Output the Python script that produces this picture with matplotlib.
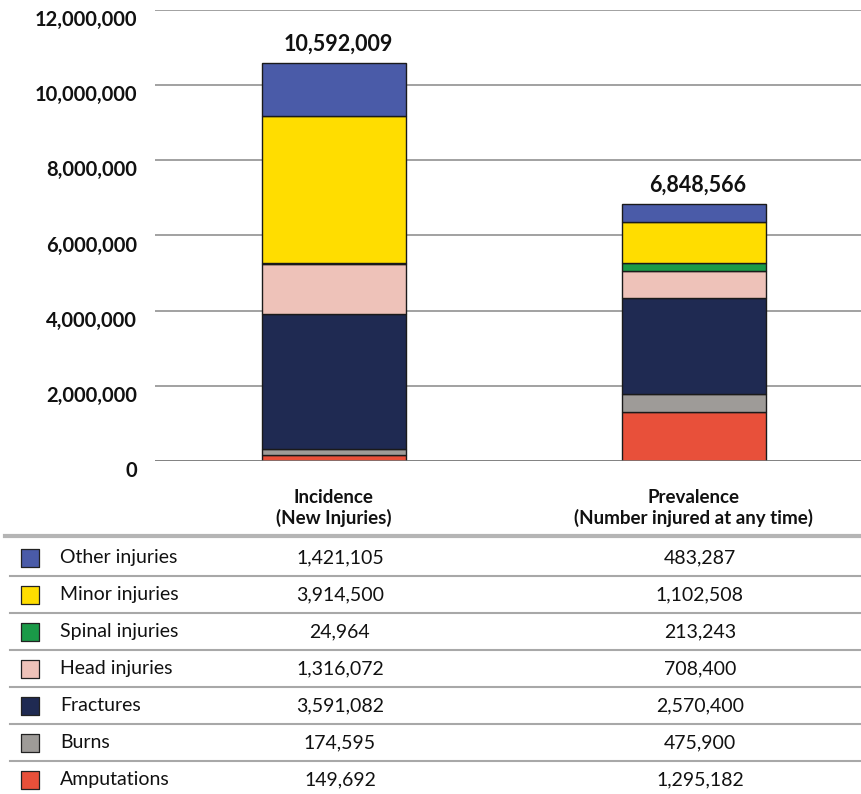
import matplotlib.pyplot as plt
import matplotlib.transforms as mtransforms
from matplotlib.lines import Line2D
from matplotlib.ticker import FuncFormatter

plt.rcParams['font.family'] = ['Lato', 'DejaVu Sans']

# data
groups = ['Incidence\n(New Injuries)', 'Prevalence\n(Number injured at any time)']
totals = [10592009, 6848566]
categories = ['Amputations', 'Burns', 'Fractures', 'Head injuries',
              'Spinal injuries', 'Minor injuries', 'Other injuries']
incidence = [149692, 174595, 3591082, 1316072, 24964, 3914500, 1421105]
prevalence = [1295182, 475900, 2570400, 708400, 213243, 1102508, 483287]
colors = ['#E8503A', '#9E9B98', '#1F2A52', '#EEC2B9',
          '#1A9A48', '#FFDD00', '#4A5BA8']
yticks = [0, 2000000, 4000000, 6000000, 8000000, 10000000, 12000000]

W, H = 861, 794
fig = plt.figure(figsize=(W / 100, H / 100), dpi=100)
shift_right = mtransforms.ScaledTranslation(6 / 100, 0, fig.dpi_scale_trans)

# main bar chart
ax = fig.add_axes([155 / W, 1 - 461 / H, 706 / W, 451 / H])
xs = [0, 1]
bottoms = [0, 0]
for cat, col, a, b in zip(categories, colors, incidence, prevalence):
    ax.bar(xs, [a, b], width=0.4, bottom=bottoms, color=col,
           edgecolor='#1a1a1a', linewidth=1.0, zorder=3)
    bottoms = [bottoms[0] + a, bottoms[1] + b]

for x, top, tot in zip(xs, bottoms, totals):
    ax.annotate(f'{tot:,}', (x, top), xytext=(3, 6), textcoords='offset points',
                ha='center', va='bottom', fontsize=15.5, fontweight='bold',
                color='#111111')

ax.set_xlim(-0.497, 1.464)
ax.set_ylim(0, 12000000)
ax.set_yticks(yticks)
ax.yaxis.set_major_formatter(FuncFormatter(lambda v, p: f'{int(v):,}'))
ax.tick_params(axis='y', length=0, pad=13, labelsize=14.5, labelcolor='#111111')
for lbl in ax.get_yticklabels():
    lbl.set_fontweight('bold')
    lbl.set_transform(lbl.get_transform() +
                      mtransforms.ScaledTranslation(0, -8 / 100, fig.dpi_scale_trans))
ax.set_xticks(xs)
ax.set_xticklabels(groups, fontsize=13.5, fontweight='bold', linespacing=1.2,
                   color='#111111')
for lbl in ax.get_xticklabels():
    lbl.set_transform(lbl.get_transform() + shift_right)
ax.tick_params(axis='x', length=0, pad=20)
ax.grid(axis='y', color='#9a9a9a', linewidth=1.3, zorder=0)
for s in ax.spines.values():
    s.set_visible(False)
ax.axhline(0, color='#7a7a7a', linewidth=1.8, zorder=4)

# table below
tab = fig.add_axes([0, 1 - 798 / H, 1, 259 / H])
tab.set_xlim(0, 1)
tab.set_ylim(7, 0)
tab.axis('off')
blend = mtransforms.blended_transform_factory(ax.transData, tab.transData) + shift_right

fig.add_artist(Line2D([5 / W, 1], [1 - 536 / H, 1 - 536 / H],
                      transform=fig.transFigure, color='#b5b5b5', linewidth=3))
rows = list(zip(categories, colors, incidence, prevalence))[::-1]
for i, (cat, col, a, b) in enumerate(rows):
    yc = i + 0.5
    if i > 0:
        tab.plot([10 / W, 1], [i, i], color='#a8a8a8', linewidth=1.5)
    tab.scatter([30 / W], [yc], marker='s', s=180, color=col,
                edgecolor='#222222', linewidth=0.9)
    tab.text(60 / W, yc, cat, va='center', ha='left', fontsize=14, color='#111111')
    tab.text(0, yc, f'{a:,}', transform=blend, ha='center', va='center',
             fontsize=14, color='#111111')
    tab.text(1, yc, f'{b:,}', transform=blend, ha='center', va='center',
             fontsize=14, color='#111111')

fig.savefig('out.png', dpi=100)
